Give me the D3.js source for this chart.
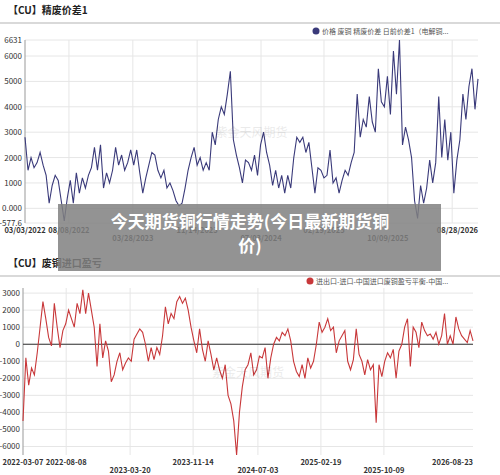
<!DOCTYPE html>
<html><head><meta charset="utf-8">
<script src="https://cdn.jsdelivr.net/npm/d3@7"></script>
<style>
body{margin:0;background:#fff;font-family:"Noto Sans CJK SC","Noto Sans",sans-serif;}
</style></head><body><div id="chart"></div>
<script>
// top: 精废价差
const spreadValues = [2800,1500,2000,1600,1800,2200,1700,1300,200,900,1300,1100,300,-500,400,
 1100,200,1400,600,1200,800,1300,1600,2400,1500,2500,800,1400,1000,1500,2400,1700,2100,1500,1800,2300,1700,
 2300,1400,600,1200,1700,2200,2100,1500,1200,1500,800,1000,700,300,100,200,800,1500,2000,
 2400,1700,2000,1500,1800,1500,3000,2500,3500,4000,3700,4500,5400,2700,2100,1600,1000,1900,1800,1500,2100,
 1300,2500,3000,2200,1700,900,1500,800,1300,600,1300,800,2000,2800,2600,2800,
 2200,2600,1600,600,1600,1500,1200,1300,2300,1000,1200,600,1100,1500,1300,1800,2200,
 4500,2800,3500,3200,4400,3400,3000,5500,4200,4000,5200,3700,6200,4500,6631,2500,3200,2700,2000,300,-400,900,200,800,1900,1000,1800,
 4400,2000,3500,1900,3000,600,1900,2700,4500,3500,4800,5500,3900,5100];
const spreadTicks = [6631,6000,5000,4000,3000,2000,1000,0,-577.6];
const spreadTickLabels = ["6631","6000","5000","4000","3000","2000","1000","0.000","-577.6"];
const spreadGridFrac = [0.097,0.238,0.38,0.521,0.66,0.801,0.943];
const spreadDates = [
 {f:0,t:"03/03/2022",row:0},{f:0.097,t:"08/08/2022",row:0},{f:0.238,t:"03/28/2023",row:1},
 {f:0.38,t:"11/14/2023",row:0},{f:0.521,t:"07/03/2024",row:1},{f:0.66,t:"02/19/2025",row:0},
 {f:0.801,t:"10/09/2025",row:1},{f:1,t:"08/28/2026",row:0}];

// bottom: 废铜进口盈亏
const importValues = [-4500,-800,-2400,-1400,-1800,-500,1000,2500,1500,400,-100,2400,1000,-200,800,1200,2000,1500,1000,2400,1800,3200,1800,3000,2000,1000,-1300,1200,-800,200,-400,-2200,-1800,-1000,-500,-1500,-1100,-800,-1000,300,
 600,900,700,0,-1000,-200,-900,-200,-600,500,2200,1200,1800,1500,2500,2800,2400,2700,2000,1000,200,-500,900,-300,-1000,200,-600,-1500,-800,-1500,-2000,-1200,-3000,-3500,-4500,-6500,-4000,-2500,-1500,-1200,
 -500,-1800,-1500,-700,-800,-200,-2000,-800,0,400,200,700,500,900,200,-1000,-1600,-1900,-1200,-2000,-800,-1400,-1000,0,1300,700,1000,1500,800,1000,-500,200,500,800,-1000,-1500,-900,900,-600,-1000,
 -1800,-900,-1500,-1200,-4600,-1200,-1900,-1000,-500,-800,-300,-2000,-400,0,1000,1500,-1300,1000,700,-200,1300,800,500,600,300,700,0,500,1800,0,500,0,1600,900,500,300,100,800,200];
const importTicks = [3000,2000,1000,0,-1000,-2000,-3000,-4000,-5000,-6000];
const importGridFrac = [0.096,0.238,0.378,0.522,0.662,0.802];
const importDates = [
 {f:0,t:"2022-03-07",row:0},{f:0.096,t:"2022-08-08",row:0},{f:0.238,t:"2023-03-20",row:1},
 {f:0.378,t:"2023-11-14",row:0},{f:0.522,t:"2024-07-03",row:1},{f:0.662,t:"2025-02-19",row:0},
 {f:0.802,t:"2025-10-09",row:1},{f:1,t:"2026-08-23",row:0}];

const W = 500, H = 475;
const svg = d3.select("#chart").append("svg").attr("width", W).attr("height", H);

function panel(o) {
  const g = svg.append("g");
  g.append("text").attr("x", 8).attr("y", o.titleY).attr("font-size", 10).attr("font-weight", "bold")
    .attr("fill", "#222").text(o.title);
  g.append("line").attr("x1", 0).attr("x2", W).attr("y1", o.titleY + 9).attr("y2", o.titleY + 9)
    .attr("stroke", "#ccc").attr("stroke-width", 1.5);
  // legend
  g.append("circle").attr("cx", o.legendX).attr("cy", o.legendY - 3).attr("r", 3.5).attr("fill", o.color);
  g.append("text").attr("x", o.legendX + 6).attr("y", o.legendY).attr("font-size", 7).attr("fill", "#555").text(o.legend);

  const x = d3.scaleLinear().domain([0, o.values.length - 1]).range([o.left, o.right]);
  const y = d3.scaleLinear().domain(o.domain).range([o.bottom, o.top]);
  const fx = d3.scaleLinear().domain([0, 1]).range([o.left, o.right]);

  // grid
  g.selectAll(".hg").data(o.ticks).enter().append("line")
    .attr("x1", o.left).attr("x2", o.right).attr("y1", d => y(d)).attr("y2", d => y(d))
    .attr("stroke", "#e6e6e6");
  g.selectAll(".vg").data(o.gridFrac).enter().append("line")
    .attr("x1", d => fx(d)).attr("x2", d => fx(d)).attr("y1", o.top).attr("y2", o.bottom)
    .attr("stroke", "#e6e6e6");
  g.append("line").attr("x1", o.left).attr("x2", o.left).attr("y1", o.top).attr("y2", o.bottom).attr("stroke", "#999");
  if (o.zeroLine) g.append("line").attr("x1", o.left).attr("x2", o.right).attr("y1", y(0)).attr("y2", y(0))
    .attr("stroke", "#333").attr("stroke-width", 1.2);

  g.selectAll(".yl").data(o.ticks).enter().append("text")
    .attr("x", o.left - 3).attr("y", d => y(d) + 3).attr("text-anchor", "end")
    .attr("font-size", 8).attr("fill", "#333").text((d, i) => o.tickLabels ? o.tickLabels[i] : d);

  g.selectAll(".xl").data(o.dates).enter().append("text")
    .attr("x", d => fx(d.f)).attr("y", d => o.bottom + 10 + d.row * 8)
    .attr("text-anchor", d => d.f === 0 ? "middle" : d.f === 1 ? "end" : "middle")
    .attr("font-size", 7.5).attr("font-weight", "bold").attr("fill", "#333").text(d => d.t);

  g.append("path").datum(o.values)
    .attr("d", d3.line().x((d, i) => x(i)).y(d => y(d)))
    .attr("fill", "none").attr("stroke", o.color).attr("stroke-width", 1.1);

  g.append("text").attr("x", (o.left + o.right) / 2).attr("y", (o.top + o.bottom) / 2 + 5)
    .attr("text-anchor", "middle").attr("font-size", 12).attr("fill", "#000").attr("opacity", 0.08).text(o.watermark);
}

panel({title: "【CU】精废价差1", titleY: 14, legendX: 316, legendY: 34,
  legend: "价格 废铜 精废价差 日前价差1（电解铜...", color: "#3a3a7a",
  values: spreadValues, domain: [-577.6, 6631], ticks: spreadTicks, tickLabels: spreadTickLabels,
  gridFrac: spreadGridFrac, dates: spreadDates, left: 25, right: 478, top: 40, bottom: 223,
  watermark: "紫金天风期货"});

panel({title: "【CU】废铜进口盈亏", titleY: 267, legendX: 310, legendY: 284,
  legend: "进出口-进口-中国进口废铜盈亏平衡-中国...", color: "#c8383a",
  values: importValues, domain: [-6500, 3300], ticks: importTicks,
  gridFrac: importGridFrac, dates: importDates, left: 23, right: 473, top: 288, bottom: 455,
  zeroLine: true, watermark: "紫金天风期货"});

// overlay banner
svg.append("rect").attr("x", 58).attr("y", 204).attr("width", 383).attr("height", 67)
  .attr("fill", "#808080").attr("opacity", 0.85);
const bt = svg.append("text").attr("text-anchor", "middle").attr("fill", "#fff")
  .attr("font-size", 17).attr("font-weight", "bold");
bt.append("tspan").attr("x", 250).attr("y", 228).text("今天期货铜行情走势(今日最新期货铜");
bt.append("tspan").attr("x", 250).attr("y", 252).text("价)");
</script></body></html>
